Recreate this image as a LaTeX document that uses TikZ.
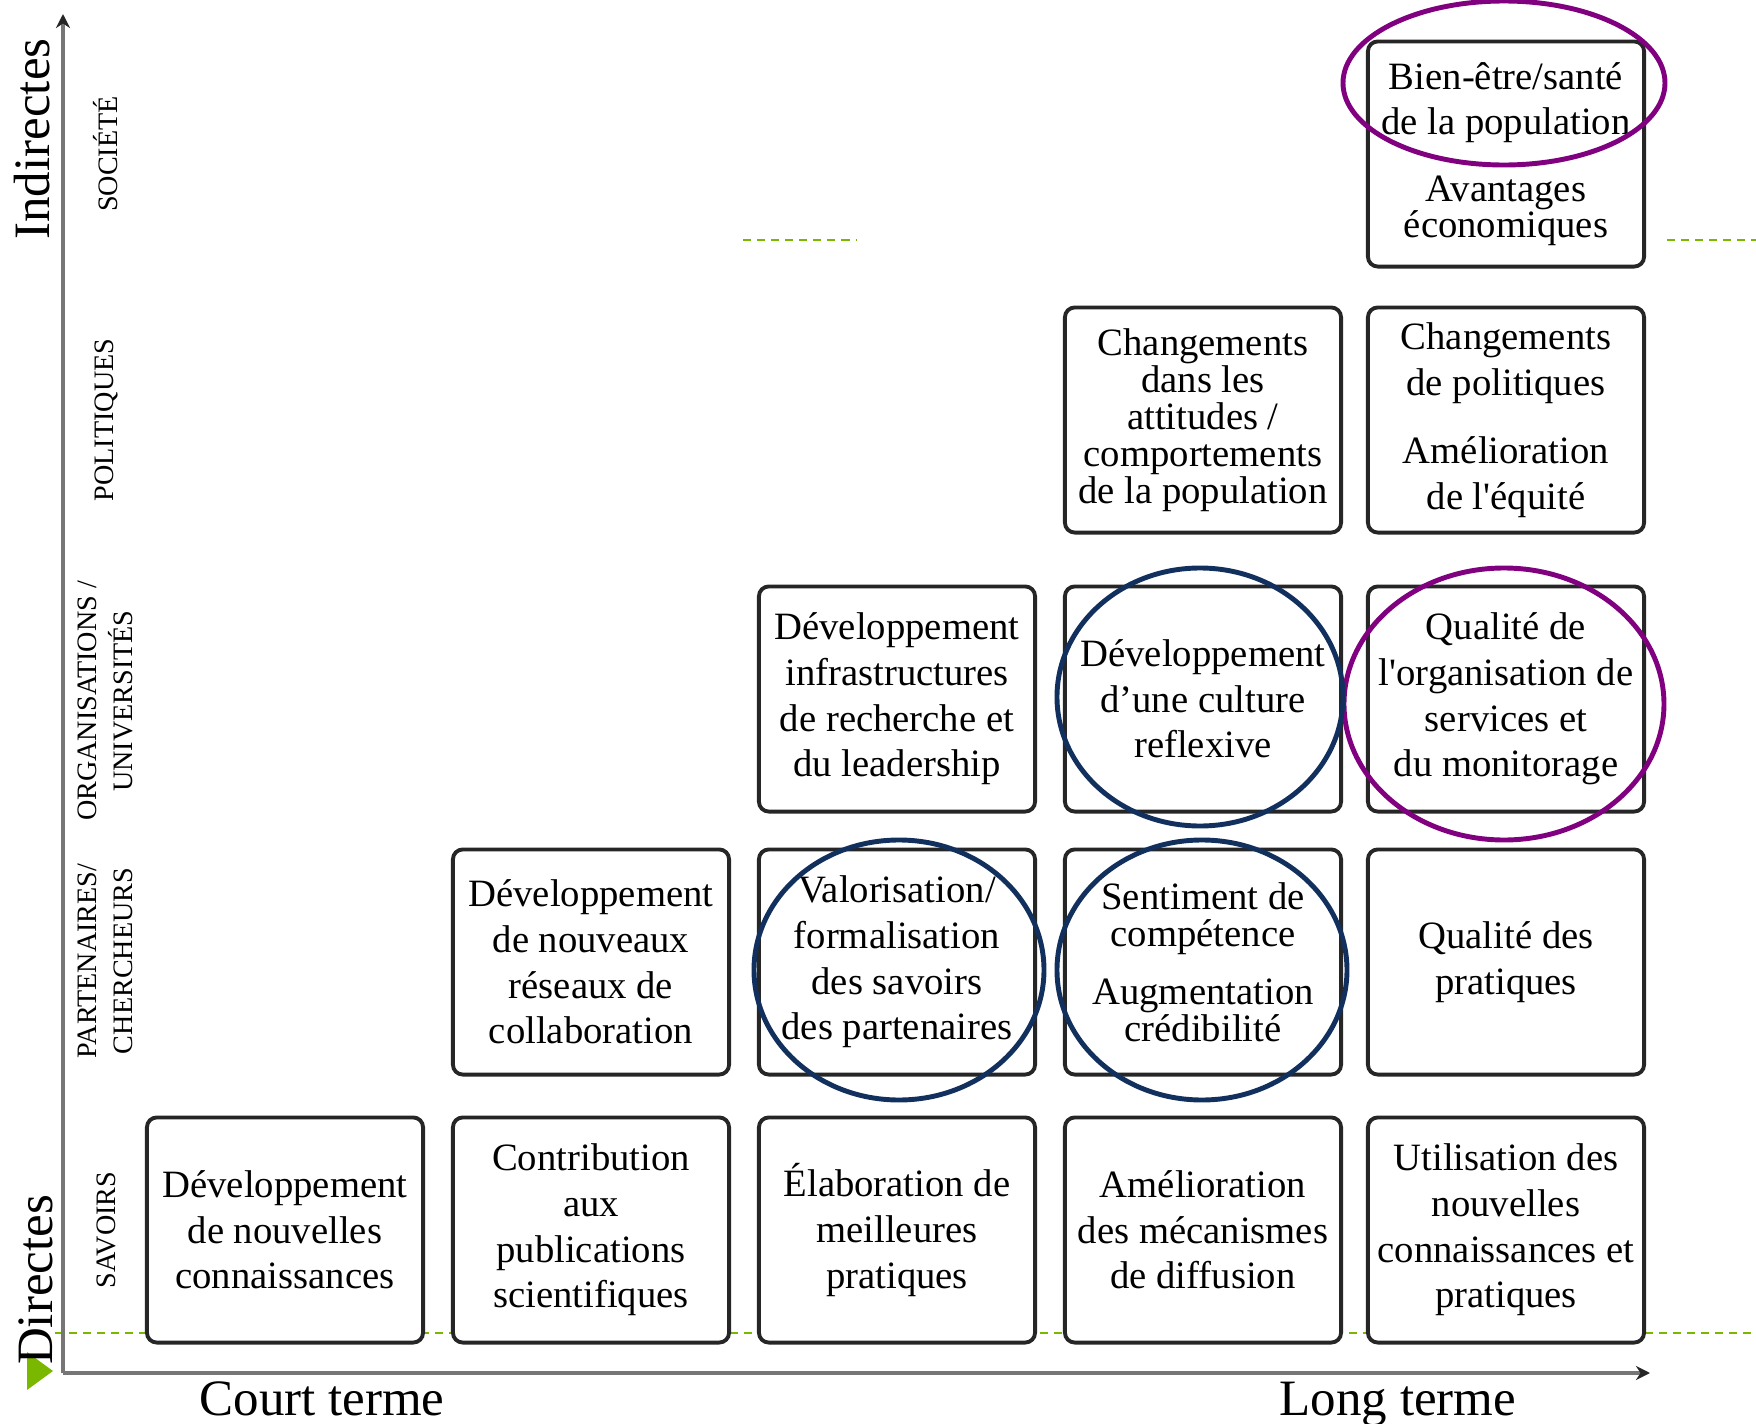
\documentclass[tikz,border=0pt]{standalone}
\usepackage{fontspec}
\setmainfont{Liberation Serif}
\usepackage{tikz}
\usetikzlibrary{arrows.meta}
\definecolor{impactgreen}{RGB}{122,184,0}
\definecolor{axisgray}{RGB}{118,118,118}
\definecolor{ringblue}{RGB}{18,48,94}
\definecolor{ringpurple}{RGB}{128,0,128}

\begin{document}
\begin{tikzpicture}[x=0.01cm, y=-0.01cm,
        outcome/.style={draw=black!85, line width=1.1pt, fill=white, rounded corners=2.8pt,
            minimum width=2.76cm, minimum height=2.25cm, inner sep=0pt, align=center,
            font=\fontsize{11}{13}\selectfont},
        tight/.style={font=\fontsize{11}{10.5}\selectfont},
        rowlabel/.style={rotate=90, align=center, font=\fontsize{8}{10.2}\selectfont},
        axislabel/.style={anchor=base, font=\fontsize{14.5}{17}\selectfont},
        bluering/.style={draw=ringblue, line width=1.4pt},
        purplering/.style={draw=ringpurple, line width=1.4pt},
        greendash/.style={draw=impactgreen, line width=0.6pt, dash pattern=on 2.3pt off 1.7pt}]
        \useasboundingbox (0,0) rectangle (1756,1424);

        % Green dashed guide lines (behind the boxes)
        \draw[greendash] (55,1333) -- (1756,1333);
        \draw[greendash] (743,240) -- (856,240);
        \draw[greendash] (1667,240) -- (1756,240);
        \fill[impactgreen] (27,1352) -- (27,1390) -- (53,1371) -- cycle;

        % Axes
        \coordinate (origin) at (63,1373);
        \coordinate (ytop) at (63,14);
        \coordinate (xend) at (1650,1373);
        \draw[axisgray, line width=1pt, -{Stealth[length=4pt,width=4pt,color=black!85]}] (origin) -- (ytop);
        \draw[axisgray, line width=1pt, -{Stealth[length=4pt,width=4pt,color=black!85]}] (origin) -- (xend);

        \node[axislabel] (court) at (322,1415) {Court terme};
        \node[axislabel] (long) at (1398,1415) {Long terme};
        \node[axislabel, rotate=90] (indirectes) at (50,139) {Indirectes};
        \node[axislabel, rotate=90] (directes) at (52,1280) {Directes};

        % Row labels
        \node[rowlabel] (societe) at (106,154) {SOCIÉTÉ};
        \node[rowlabel] (politiques) at (106,420) {POLITIQUES};
        \node[rowlabel] (organisations) at (105,701) {ORGANISATIONS /\\UNIVERSITÉS};
        \node[rowlabel] (partenaires) at (105,961) {PARTENAIRES/\\CHERCHEURS};
        \node[rowlabel] (savoirs) at (106,1230) {SAVOIRS};

        % Savoirs
        \node[outcome] (sav1) at (285,1230) {Développement\\de nouvelles\\connaissances};
        \node[outcome] (sav2) at (591,1230) {Contribution\\aux\\publications\\scientifiques};
        \node[outcome] (sav3) at (897,1230) {Élaboration de\\meilleures\\pratiques};
        \node[outcome] (sav4) at (1203,1230) {Amélioration\\des mécanismes\\de diffusion};
        \node[outcome] (sav5) at (1506,1230) {Utilisation des\\nouvelles\\connaissances et\\pratiques};

        % Partenaires / chercheurs
        \node[outcome] (par2) at (591,962) {Développement\\de nouveaux\\réseaux de\\collaboration};
        \node[outcome] (par3) at (897,962) {Valorisation/\\formalisation\\des savoirs\\des partenaires};
        \node[outcome, tight] (par4) at (1203,962) {Sentiment de\\compétence\\[6pt]Augmentation\\crédibilité};
        \node[outcome] (par5) at (1506,962) {Qualité des\\pratiques};

        % Organisations / universites
        \node[outcome] (org3) at (897,699) {Développement\\infrastructures\\de recherche et\\du leadership};
        \node[outcome] (org4) at (1203,699) {Développement\\d’une culture\\reflexive};
        \node[outcome] (org5) at (1506,699) {Qualité de\\l\textquotesingle organisation de\\services et\\du monitorage};

        % Politiques
        \node[outcome, tight] (pol4) at (1203,420) {Changements\\dans les\\attitudes /\\comportements\\de la population};
        \node[outcome] (pol5) at (1506,420) {Changements\\de politiques\\[6.4pt]Amélioration\\de l\textquotesingle équité};

        % Societe
        \node[outcome] (soc5) at (1506,154) {Bien-être/santé\\de la population\\[6pt]Avantages\\[-2.8pt]économiques};

        % Highlight rings
        \draw[purplering] (1504,83) ellipse (161 and 82);
        \draw[purplering] (1504,704) ellipse (160 and 136);
        \draw[bluering] (1200,697) ellipse (143 and 129);
        \draw[bluering] (899,970) ellipse (145 and 130);
        \draw[bluering] (1202,970) ellipse (145 and 130);
\end{tikzpicture}
\end{document}
